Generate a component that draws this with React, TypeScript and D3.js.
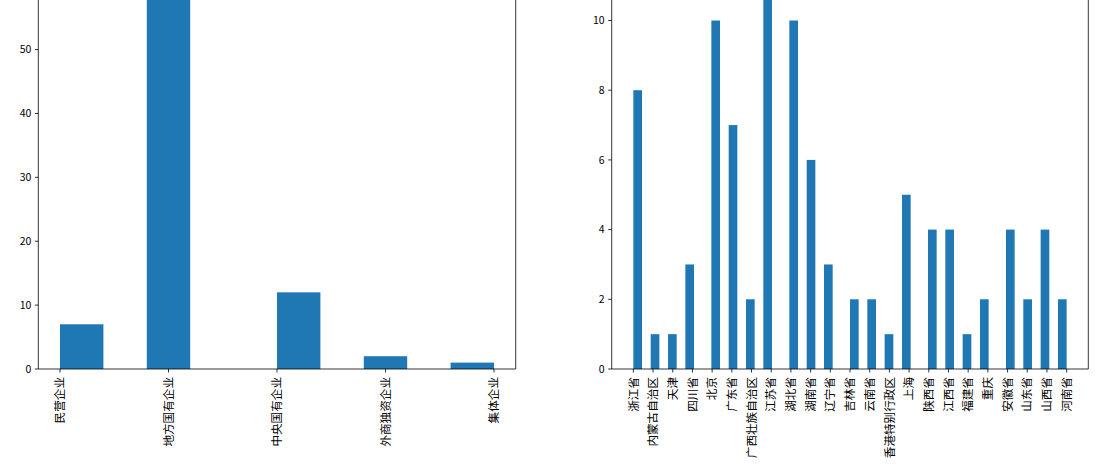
import React from "react";
import * as d3 from "d3";

const leftCategories = ["民营企业", "地方国有企业", "中央国有企业", "外商独资企业", "集体企业"];
const leftCounts = [7, 60, 12, 2, 1];
const leftBins = 10;
const leftYTicks = [0, 10, 20, 30, 40, 50];

const rightCategories = [
  "浙江省", "内蒙古自治区", "天津", "四川省", "北京", "广东省", "广西壮族自治区", "江苏省",
  "湖北省", "湖南省", "辽宁省", "吉林省", "云南省", "香港特别行政区", "上海", "陕西省",
  "江西省", "福建省", "重庆", "安徽省", "山东省", "山西省", "河南省",
];
const rightCounts = [8, 1, 1, 3, 10, 7, 2, 11, 10, 6, 3, 2, 2, 1, 5, 4, 4, 1, 2, 4, 2, 4, 2];
const rightBins = 50;
const rightYTicks = [0, 2, 4, 6, 8, 10];

const W = 1105;
const H = 469;
const FONT = "'Noto Sans CJK SC', 'DejaVu Sans', sans-serif";
const BAR = "#1f77b4";

type PanelProps = {
  cats: string[];
  counts: number[];
  nbins: number;
  yTicks: number[];
  x0: number;
  x1: number;
  top: number;
  bottom: number;
};

function Panel({ cats, counts, nbins, yTicks, x0, x1, top, bottom }: PanelProps) {
  const n = cats.length;
  const maxIdx = n - 1;
  const binW = maxIdx / nbins;
  const heights = new Array(nbins).fill(0);
  counts.forEach((c, i) => {
    const b = Math.min(Math.floor(i / binW + 1e-9), nbins - 1);
    heights[b] += c;
  });
  const pad = maxIdx * 0.05;
  const x = d3.scaleLinear().domain([-pad, maxIdx + pad]).range([x0, x1]);
  const ymax = d3.max(heights)! * 1.05;
  const y = d3.scaleLinear().domain([0, ymax]).range([bottom, top]);
  const tickLen = 3.5;
  return (
    <g>
      {heights.map((h, b) =>
        h > 0 ? (
          <rect
            key={b}
            x={x(b * binW)}
            y={y(h)}
            width={x((b + 1) * binW) - x(b * binW)}
            height={y(0) - y(h)}
            fill={BAR}
          />
        ) : null
      )}
      <line x1={x0} x2={x0} y1={top} y2={bottom} stroke="#000" strokeWidth={0.8} />
      <line x1={x1} x2={x1} y1={top} y2={bottom} stroke="#000" strokeWidth={0.8} />
      <line x1={x0} x2={x1} y1={bottom} y2={bottom} stroke="#000" strokeWidth={0.8} />
      <line x1={x0} x2={x1} y1={top} y2={top} stroke="#000" strokeWidth={0.8} />
      {yTicks.map((t) => (
        <g key={t} transform={`translate(${x0},${y(t)})`}>
          <line x1={-tickLen} x2={0} stroke="#000" strokeWidth={0.8} />
          <text x={-tickLen - 3.5} dy="0.35em" textAnchor="end" fontSize={10.5} fontFamily={FONT} fill="#000">
            {t}
          </text>
        </g>
      ))}
      {cats.map((c, i) => (
        <g key={c} transform={`translate(${x(i)},${bottom})`}>
          <line y1={0} y2={tickLen} stroke="#000" strokeWidth={0.8} />
          <text
            transform={`translate(0,${tickLen + 4.5}) rotate(-90)`}
            dy="0.36em"
            textAnchor="end"
            fontSize={11.6}
            fontFamily={FONT}
            fill="#000"
          >
            {c}
          </text>
        </g>
      ))}
    </g>
  );
}

export default function App() {
  return (
    <svg
      width={W}
      height={H}
      style={{ position: "absolute", left: 0, top: 0, background: "#fff" }}
    >
      <rect width={W} height={H} fill="#fff" />
      <Panel
        cats={leftCategories}
        counts={leftCounts}
        nbins={leftBins}
        yTicks={leftYTicks}
        x0={38.3}
        x1={515.7}
        top={-33.5}
        bottom={369}
      />
      <Panel
        cats={rightCategories}
        counts={rightCounts}
        nbins={rightBins}
        yTicks={rightYTicks}
        x0={611.7}
        x1={1088.3}
        top={-33.5}
        bottom={369}
      />
    </svg>
  );
}
